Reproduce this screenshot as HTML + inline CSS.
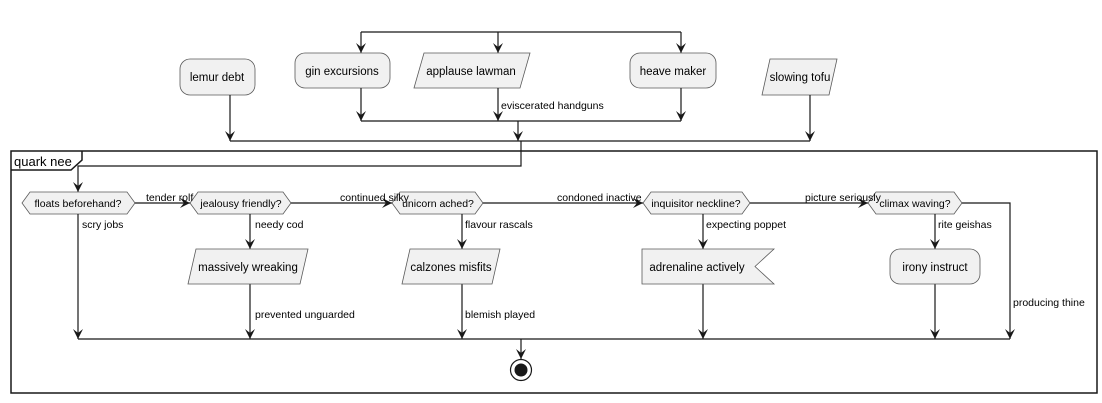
<!DOCTYPE html>
<html><head><meta charset="utf-8"><style>
body{margin:0;background:#fff}
svg{display:block}
text{font-family:"Liberation Sans",sans-serif;font-size:10.5px;fill:#000}
.n{fill:#f1f1f1;stroke:#5a5a5a;stroke-width:0.8}
.l{stroke:#181818;stroke-width:1.2;fill:none}
.a{fill:#181818}
.t{font-size:11.5px}
</style></head><body>
<svg width="1102" height="403" viewBox="0 0 1102 403" xmlns="http://www.w3.org/2000/svg">
<defs>
<path id="ad" d="M-5,-10 L0,0 L5,-10 L0,-6 Z" class="a"/>
<path id="ar" d="M-10,-5 L0,0 L-10,5 L-6,0 Z" class="a"/>
</defs>
<path class="l" d="M361,32 H681 M361,32 V53 M498,32 V53 M681,32 V53"/>
<use href="#ad" x="361" y="53"/><use href="#ad" x="498" y="53"/><use href="#ad" x="681" y="53"/>
<rect class="n" x="295" y="53" width="95" height="35" rx="10"/>
<text class="t" x="342" y="75" text-anchor="middle">gin excursions</text>
<path class="n" d="M424,53 H530 L520,88 H414 Z"/>
<text class="t" x="471" y="75" text-anchor="middle">applause lawman</text>
<rect class="n" x="630" y="53" width="86" height="35" rx="10"/>
<text class="t" x="673" y="75" text-anchor="middle">heave maker</text>
<rect class="n" x="180" y="59" width="75" height="36" rx="10"/>
<text class="t" x="217" y="81" text-anchor="middle">lemur debt</text>
<path class="n" d="M770,59 H837 L829,95 H762 Z"/>
<text class="t" x="800" y="81" text-anchor="middle">slowing tofu</text>
<path class="l" d="M361,88 V121 M498,88 V121 M681,88 V121 M361,121 H681"/>
<use href="#ad" x="361" y="121"/><use href="#ad" x="498" y="121"/><use href="#ad" x="681" y="121"/>
<text x="501" y="109">eviscerated handguns</text>
<path class="l" d="M518,121 V141 M230,95 V141 M810,95 V141 M230,141 H810"/>
<use href="#ad" x="518" y="141"/><use href="#ad" x="230" y="141"/><use href="#ad" x="810" y="141"/>
<rect x="11" y="151" width="1086" height="242" fill="none" stroke="#181818" stroke-width="1.5"/>
<path d="M11,170 H71 L82,160 V151" fill="none" stroke="#181818" stroke-width="1.5"/>
<text x="14" y="166" style="font-size:13px">quark nee</text>
<path class="l" d="M521,141 V166 H78 V192"/>
<use href="#ad" x="78" y="192"/>
<path class="n" d="M30,192 H127 L135,203 L127,214 H30 L22,203 Z"/>
<text x="78" y="207" text-anchor="middle">floats beforehand?</text>
<path class="n" d="M198,192 H283 L291,203 L283,214 H198 L190,203 Z"/>
<text x="241" y="207" text-anchor="middle">jealousy friendly?</text>
<path class="n" d="M400,192 H475 L483,203 L475,214 H400 L392,203 Z"/>
<text x="438" y="207" text-anchor="middle">unicorn ached?</text>
<path class="n" d="M651,192 H742 L750,203 L742,214 H651 L643,203 Z"/>
<text x="696" y="207" text-anchor="middle">inquisitor neckline?</text>
<path class="n" d="M876,192 H954 L962,203 L954,214 H876 L868,203 Z"/>
<text x="915" y="207" text-anchor="middle">climax waving?</text>
<path class="l" d="M135,203 H190 M291,203 H392 M483,203 H643 M750,203 H868 M962,203 H1010 V339"/>
<use href="#ar" x="190" y="203"/><use href="#ar" x="392" y="203"/><use href="#ar" x="643" y="203"/><use href="#ar" x="868" y="203"/>
<text x="146" y="201">tender rolf</text>
<text x="340" y="201">continued silky</text>
<text x="557" y="201">condoned inactive</text>
<text x="805" y="201">picture seriously</text>
<path class="l" d="M78,214 V339 M250,214 V249 M462,214 V249 M703,214 V249 M935,214 V249 M250,284 V339 M462,284 V339 M703,284 V339 M935,284 V339 M78,339 H1010 M521,339 V359"/>
<use href="#ad" x="250" y="249"/><use href="#ad" x="462" y="249"/><use href="#ad" x="703" y="249"/><use href="#ad" x="935" y="249"/>
<use href="#ad" x="78" y="339"/><use href="#ad" x="250" y="339"/><use href="#ad" x="462" y="339"/><use href="#ad" x="703" y="339"/><use href="#ad" x="935" y="339"/><use href="#ad" x="1010" y="339"/><use href="#ad" x="521" y="359"/>
<text x="82" y="228">scry jobs</text>
<text x="255" y="228">needy cod</text>
<text x="465" y="228">flavour rascals</text>
<text x="706" y="228">expecting poppet</text>
<text x="938" y="228">rite geishas</text>
<text x="255" y="318">prevented unguarded</text>
<text x="465" y="318">blemish played</text>
<text x="1013" y="306">producing thine</text>
<path class="n" d="M196,249 H308 L300,284 H188 Z"/>
<text class="t" x="248" y="271" text-anchor="middle">massively wreaking</text>
<path class="n" d="M410,249 H500 L492,284 H402 Z"/>
<text class="t" x="451" y="271" text-anchor="middle">calzones misfits</text>
<path class="n" d="M642,249 H774 L755,266.5 L774,284 H642 Z"/>
<text class="t" x="697" y="271" text-anchor="middle">adrenaline actively</text>
<rect class="n" x="890" y="249" width="90" height="35" rx="10"/>
<text class="t" x="935" y="271" text-anchor="middle">irony instruct</text>
<circle cx="521" cy="370" r="10.5" fill="#fff" stroke="#181818" stroke-width="1.2"/>
<circle cx="521" cy="370" r="6.5" fill="#181818"/>
</svg>
</body></html>
